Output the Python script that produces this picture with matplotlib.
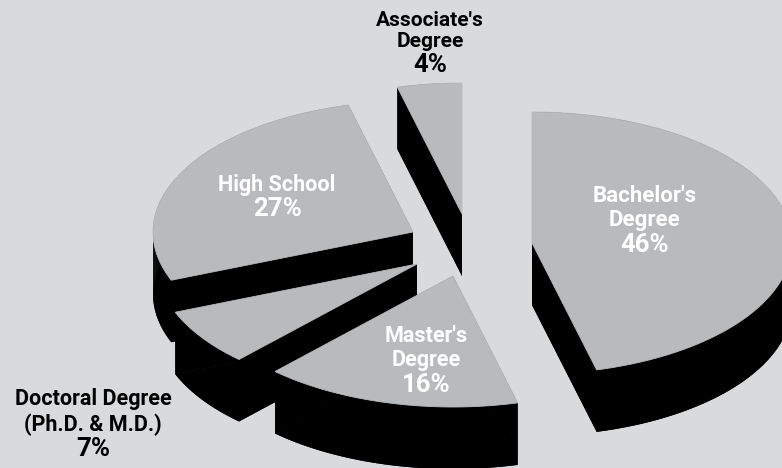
import numpy as np
import matplotlib
matplotlib.use('Agg')
import matplotlib.pyplot as plt
from matplotlib.patches import Polygon

names = ["Associate's\nDegree", "High School", "Doctoral Degree\n(Ph.D. & M.D.)",
         "Master's\nDegree", "Bachelor's\nDegree"]
pcts = ["4%", "27%", "7%", "16%", "46%"]

# pie look
bg = '#d9dadc'
grey = '#b9babc'
rx, ry, depth = 260, 131, 62

# apex of each slice, in image pixels
apex = {"Bachelor": (532, 243), "Master": (453, 276), "Doctoral": (417, 264),
        "High": (413, 232), "Associate": (462, 214)}
# clockwise from 12 o'clock, starting with bachelor's
order = [("Bachelor", 46), ("Master", 16), ("Doctoral", 7), ("High", 27), ("Associate", 4)]

fig = plt.figure(figsize=(7.82, 4.68), dpi=100, facecolor=bg)
ax = fig.add_axes([0, 0, 1, 1])
ax.set_xlim(0, 782)
ax.set_ylim(468, 0)
ax.axis('off')


def slice_points(key, start, share):
    cx, cy = apex[key]
    t = np.radians(np.linspace(start, start + share * 3.6, 80))
    xs = cx + rx * np.sin(t)
    ys = cy - ry * np.cos(t)
    return np.column_stack([np.r_[cx, xs], np.r_[cy, ys]])


angles = {}
a = 0
for key, share in order:
    angles[key] = a
    a += share * 3.6

# back to front
shares_by_key = dict(order)
for z, key in enumerate(["Associate", "High", "Doctoral", "Master", "Bachelor"]):
    pts = slice_points(key, angles[key], shares_by_key[key])
    low = pts + [0, depth]
    n = len(pts)
    for i in range(n):
        j = (i + 1) % n
        quad = [pts[i], pts[j], low[j], low[i]]
        ax.add_patch(Polygon(quad, closed=True, fc='black', ec='none', zorder=z * 2 + 1))
    ax.add_patch(Polygon(low, closed=True, fc='black', ec='none', zorder=z * 2 + 1))
    ax.add_patch(Polygon(pts, closed=True, fc=grey, ec=grey, lw=0.6, zorder=z * 2 + 2))

font = ['Roboto', 'DejaVu Sans']
txt = dict(ha='center', va='center', fontweight='bold', family=font, zorder=20)
ax.text(430, 31, names[0], color='black', fontsize=15, linespacing=1.09, **txt)
ax.text(277, 185, names[1], color='white', fontsize=15.5, **txt)
ax.text(93, 412, names[2], color='black', fontsize=15.5, linespacing=1.16, **txt)
ax.text(426, 348, names[3], color='white', fontsize=15.5, linespacing=1.16, **txt)
ax.text(645, 208, names[4], color='white', fontsize=16, linespacing=1.14, **txt)

ax.text(430, 65, pcts[0], color='black', fontsize=18.5, **txt)
ax.text(277, 209, pcts[1], color='white', fontsize=18.5, **txt)
ax.text(93, 449, pcts[2], color='black', fontsize=18.5, **txt)
ax.text(426, 385, pcts[3], color='white', fontsize=18.5, **txt)
ax.text(645, 245, pcts[4], color='white', fontsize=18.5, **txt)

fig.savefig('out.png', dpi=100, facecolor=bg)
